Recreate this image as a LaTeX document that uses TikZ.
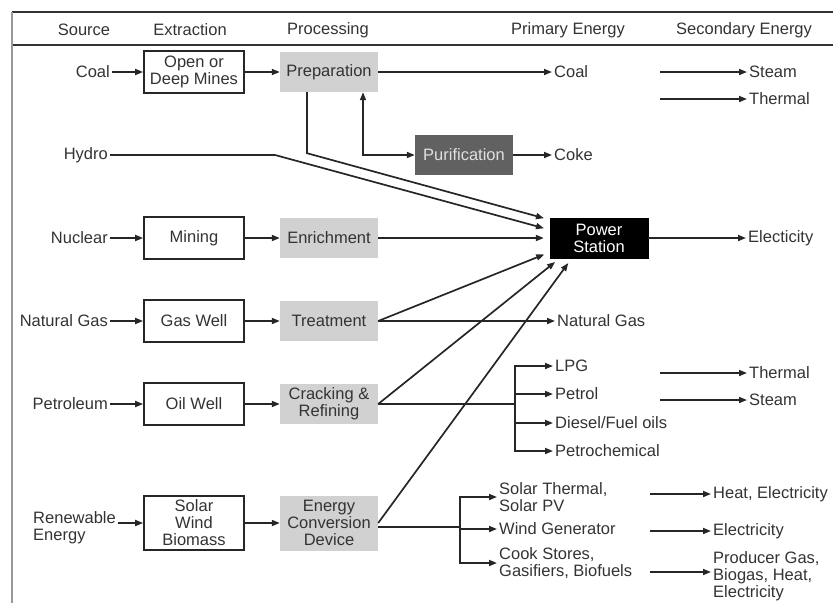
\documentclass[tikz,border=0pt]{standalone}
\usepackage{fontspec}
\setmainfont{Liberation Sans}
\usetikzlibrary{positioning}
\usetikzlibrary{calc}
\usetikzlibrary{arrows.meta}

\begin{document}
\begin{tikzpicture}[x=1pt, y=-1pt,
    every node/.style={font=\fontsize{16.5}{17}\selectfont, text=black!80, inner sep=2pt},
    ext/.style={draw=black!85, line width=1.7pt, fill=white, minimum width=100pt, minimum height=42pt, align=center, inner sep=1pt},
    proc/.style={fill=black!18, minimum width=98pt, minimum height=40pt, align=center, inner sep=1pt},
    lbl/.style={anchor=west, align=left},
    ln/.style={line width=1.7pt, draw=black!85},
    arr/.style={ln, -{Triangle[length=8pt,width=6pt]}},
    tops/.style={arr, shorten >=6pt}]
            \useasboundingbox (0,0) rectangle (833,603);
            \draw[line width=2.8pt, black!80] (12,12) -- (833,12);
            \draw[line width=2.2pt, black!80] (12,45) -- (833,45);
            \draw[line width=1.6pt, black!40] (12,12) -- (12,603);

            \node (h1) at (84,30) {Source};
            \node (h2) at (190,30) {Extraction};
            \node (h3) at (328,30) {Processing};
            \node (h4) at (568,30) {Primary Energy};
            \node[anchor=west] (h5) at (674,30) {Secondary Energy};

            \node[fill=black, draw=black, minimum width=98pt, minimum height=40pt, align=center, text=white, inner sep=1pt] (ps) at (599,238) {Power\\Station};
            \node[lbl] (elec) at (746,238) {Electicity};
            \draw[arr] (ps) -- (elec);

            \node[anchor=east] (coal) at (112,72) {Coal};
            \node[ext] (mines) at (194,72) {Open or\\Deep Mines};
            \node[proc] (prep) at (329,72) {Preparation};
            \node[lbl] (pcoal) at (552,72) {Coal};
            \draw[arr] (coal) -- (mines);
            \draw[arr] (mines) -- (prep);
            \draw[arr] (prep) -- (pcoal);
            \coordinate (c1) at (660,72);
            \coordinate (c2) at (660,99);
            \node[lbl] (steam1) at (747,72) {Steam};
            \node[lbl] (therm1) at (747,99) {Thermal};
            \draw[arr] (c1) -- (steam1);
            \draw[arr] (c2) -- (therm1);

            \node[fill=black!62, minimum width=98pt, minimum height=40pt, text=black!12, inner sep=1pt] (purif) at (464,155) {Purification};
            \node[lbl] (coke) at (552,155) {Coke};
            \draw[arr] (purif) -- (coke);
            \draw[ln, {Triangle[length=8pt,width=6pt]}-{Triangle[length=8pt,width=6pt]}] ($(prep.south)+(34,0)$) |- (purif.west);
            \draw[tops] ($(prep.south)+(-22,0)$) -- ++(0,61) -- ($(ps.north west)+(0,2)$);

            \node[anchor=east] (hydro) at (110,155) {Hydro};
            \draw[tops] (hydro.east) -- ++(165,0) -- ($(ps.north west)+(0,12)$);

            \node[anchor=east] (nucl) at (110,238) {Nuclear};
            \node[ext] (mining) at (194,238) {Mining};
            \node[proc] (enrich) at (329,238) {Enrichment};
            \draw[arr] (nucl) -- (mining);
            \draw[arr] (mining) -- (enrich);
            \draw[tops] (enrich) -- (ps.west);

            \node[anchor=east] (ngas) at (110,321) {Natural Gas};
            \node[ext] (gwell) at (194,321) {Gas Well};
            \node[proc] (treat) at (329,321) {Treatment};
            \node[lbl] (pgas) at (555,321) {Natural Gas};
            \draw[arr] (ngas) -- (gwell);
            \draw[arr] (gwell) -- (treat);
            \draw[tops] (treat.east) -- ($(ps.south west)+(0,-6)$);
            \draw[arr] (treat.east) -- (pgas);

            \node[anchor=east] (petro) at (110,404) {Petroleum};
            \node[ext] (owell) at (194,404) {Oil Well};
            \node[proc] (crack) at (329,404) {Cracking \&\\Refining};
            \draw[arr] (petro) -- (owell);
            \draw[arr] (owell) -- (crack);
            \draw[tops] (crack.east) -- ($(ps.south west)+(10,0)$);
            \coordinate (split1) at ($(crack.east)+(137,0)$);
            \draw[ln] (crack.east) -- (split1);
            \node[lbl] (lpg) at (553,366) {LPG};
            \node[lbl] (petrol) at (553,394) {Petrol};
            \node[lbl] (diesel) at (553,423) {Diesel/Fuel oils};
            \node[lbl] (pchem) at (553,451) {Petrochemical};
            \foreach \o in {lpg,petrol,diesel,pchem}
                \draw[arr] (split1) |- (\o);
            \coordinate (c3) at (660,373);
            \coordinate (c4) at (660,400);
            \node[lbl] (therm2) at (747,373) {Thermal};
            \node[lbl] (steam2) at (747,400) {Steam};
            \draw[arr] (c3) -- (therm2);
            \draw[arr] (c4) -- (steam2);

            \node[anchor=east, align=left] (renew) at (118,528) {Renewable\\Energy};
            \node[ext, minimum height=54pt] (swb) at (194,523) {Solar\\Wind\\Biomass};
            \node[proc, minimum height=55pt] (ecd) at (329,523) {Energy\\Conversion\\Device};
            \draw[arr] (renew.east |- swb) -- (swb);
            \draw[arr] (swb) -- (ecd);
            \draw[tops] (ecd.east) -- ($(ps.south west)+(22,0)$);
            \coordinate (split2) at ($(ecd.east)+(82,4)$);
            \draw[ln] ($(ecd.east)+(0,4)$) -- (split2);
            \node[lbl] (solar) at (497,497) {Solar Thermal,\\Solar PV};
            \node[lbl] (wind) at (497,529) {Wind Generator};
            \node[lbl] (cook) at (497,563) {Cook Stores,\\Gasifiers, Biofuels};
            \foreach \o in {solar,wind,cook}
                \draw[arr] (split2) |- (\o);
            \coordinate (c5) at (650,494);
            \coordinate (c6) at (650,531);
            \coordinate (c7) at (650,572);
            \node[lbl] (heat) at (711,494) {Heat, Electricity};
            \node[lbl] (elec2) at (711,531) {Electricity};
            \node[lbl] (prod) at (711,576) {Producer Gas,\\Biogas, Heat,\\Electricity};
            \draw[arr] (c5) -- (heat);
            \draw[arr] (c6) -- (elec2);
            \draw[arr] (c7) -- (prod.west |- c7);
        \end{tikzpicture}
\end{document}
